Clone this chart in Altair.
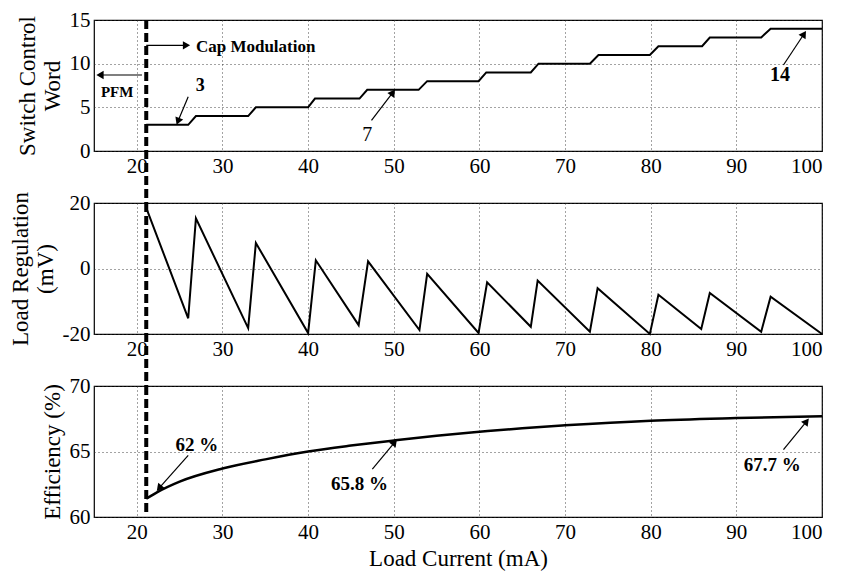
import altair as alt
import pandas as pd

FONT = "Liberation Serif"

# ---------------- data ----------------
x_ticks = [20, 30, 40, 50, 60, 70, 80, 90, 100]
pfm_boundary = 21.1

# Switch control word (staircase corners)
word_x = [21.1, 26.0, 26.9, 33.0, 33.9, 40.0, 40.8, 46.0, 46.9, 52.9, 53.9, 59.9,
          60.8, 66.0, 66.9, 72.9, 73.9, 79.9, 80.9, 86.0, 86.9, 92.9, 94.0, 100.0]
word_y = [3, 3, 4, 4, 5, 5, 6, 6, 7, 7, 8, 8, 9, 9, 10, 10, 11, 11, 12, 12, 13, 13, 14, 14]

# Load regulation (mV) sawtooth
reg_x = [21.1, 26.0, 26.9, 33.0, 33.9, 40.0, 40.9, 45.9, 47.0, 53.0, 53.9, 59.9,
         60.9, 66.0, 66.8, 72.9, 73.8, 79.9, 80.9, 85.9, 86.9, 92.9, 94.0, 100.0]
reg_y = [18.5, -15.2, 15.3, -18.2, 7.8, -19.7, 2.5, -17.3, 2.2, -18.8, -1.6, -19.7,
         -4.2, -17.8, -3.7, -19.3, -6.0, -20.0, -8.0, -18.5, -7.5, -19.3, -8.6, -20.0]

# Efficiency (%)
eff_x = [21.1, 22.4, 25, 30, 35, 40, 45, 50, 55, 60, 65, 70, 80, 90, 100]
eff_y = [61.4, 61.9, 62.7, 63.7, 64.4, 65.0, 65.45, 65.84, 66.2, 66.5, 66.78, 67.0, 67.35, 67.55, 67.7]

# annotations: text labels
top_text = ["Cap Modulation", "PFM", "3", "14"]
top_text_x = [26.9, 17.7, 27.4, 95.1]
top_text_y = [11.9, 6.8, 7.4, 8.7]
top_text_size = [17, 15, 18, 20]
seven_text = ["7"]
seven_x = [46.9]
seven_y = [1.8]

bot_text = ["62 %", "65.8 %", "67.7 %"]
bot_text_x = [27.0, 46.0, 94.2]
bot_text_y = [65.5, 62.5, 64.0]

# annotations: arrows (start -> tip) and arrowhead angle
top_arr_x = [21.1, 20.6, 26.0, 47.4, 95.5]
top_arr_y = [12.1, 8.7, 6.2, 3.5, 9.85]
top_arr_x2 = [25.8, 15.7, 24.8, 49.9, 97.9]
top_arr_y2 = [12.1, 8.7, 3.4, 6.7, 13.4]
top_arr_angle = [90, 270, 202, 36, 33]

bot_arr_x = [26.0, 47.5, 95.5]
bot_arr_y = [64.7, 63.65, 65.15]
bot_arr_x2 = [22.6, 50.1, 98.2]
bot_arr_y2 = [62.2, 65.7, 67.3]
bot_arr_angle = [220, 39, 38]

# ---------------- chart ----------------
W, H, GAP = 728, 131, 52
xscale = alt.Scale(domain=[15, 100], nice=False)
HYPHEN = "replace(datum.label, '\u2212', '-')"


def xenc(title=None):
    return alt.X("x:Q", scale=xscale, axis=alt.Axis(values=x_ticks, title=title))


def boundary(length):
    return alt.Chart(pd.DataFrame({"x": [pfm_boundary]})).mark_rule(
        color="black", strokeWidth=4, strokeDash=[9, 4]
    ).encode(x=alt.X("x:Q", scale=xscale), y=alt.value(0), y2=alt.value(length))


def arrows(xs, ys, x2s, y2s, angles):
    df = pd.DataFrame({"x": xs, "y": ys, "x2": x2s, "y2": y2s, "a": angles})
    line = alt.Chart(df).mark_rule(color="black", strokeWidth=1.2).encode(
        x=alt.X("x:Q", scale=xscale), y="y:Q", x2="x2:Q", y2="y2:Q")
    head = alt.Chart(df).mark_point(shape="triangle-up", filled=True, color="black",
                                    size=70, opacity=1).encode(
        x=alt.X("x2:Q", scale=xscale), y="y2:Q",
        angle=alt.Angle("a:Q", scale=None))
    return line + head


# top panel
word_df = pd.DataFrame({"x": word_x, "y": word_y})
top_line = alt.Chart(word_df).mark_line(color="black", strokeWidth=2).encode(
    x=xenc(),
    y=alt.Y("y:Q", scale=alt.Scale(domain=[0, 15], nice=False),
            axis=alt.Axis(values=[0, 5, 10, 15], title=["Switch Control", "Word"])))
top_lab_left = alt.Chart(pd.DataFrame({"x": [top_text_x[0]], "y": [top_text_y[0]],
                                       "t": [top_text[0]]})).mark_text(
    font=FONT, fontWeight="bold", color="black", baseline="middle", align="left",
    fontSize=top_text_size[0]).encode(x=alt.X("x:Q", scale=xscale), y="y:Q", text="t:N")
top_lab_c = alt.Chart(pd.DataFrame({"x": top_text_x[1:], "y": top_text_y[1:],
                                    "t": top_text[1:], "s": top_text_size[1:]})).mark_text(
    font=FONT, fontWeight="bold", color="black", baseline="middle", align="center").encode(
    x=alt.X("x:Q", scale=xscale), y="y:Q", text="t:N", size=alt.Size("s:Q", scale=None))
seven = alt.Chart(pd.DataFrame({"x": seven_x, "y": seven_y, "t": seven_text})).mark_text(
    font=FONT, fontSize=20, color="black", baseline="middle").encode(
    x=alt.X("x:Q", scale=xscale), y="y:Q", text="t:N")
top = alt.layer(top_line, boundary(H + GAP), top_lab_left, top_lab_c, seven,
                arrows(top_arr_x, top_arr_y, top_arr_x2, top_arr_y2, top_arr_angle)
                ).properties(width=W, height=H)

# middle panel
reg_df = pd.DataFrame({"x": reg_x, "y": reg_y})
mid_line = alt.Chart(reg_df).mark_line(color="black", strokeWidth=2).encode(
    x=xenc(),
    y=alt.Y("y:Q", scale=alt.Scale(domain=[-20, 20], nice=False),
            axis=alt.Axis(values=[-20, 0, 20], title=["Load Regulation", "(mV)"],
                          labelExpr=HYPHEN)))
mid = alt.layer(mid_line, boundary(H + GAP)).properties(width=W, height=H)

# bottom panel
eff_df = pd.DataFrame({"x": eff_x, "y": eff_y})
bot_line = alt.Chart(eff_df).mark_line(color="black", strokeWidth=2.5,
                                       interpolate="monotone").encode(
    x=xenc("Load Current (mA)"),
    y=alt.Y("y:Q", scale=alt.Scale(domain=[60, 70], nice=False),
            axis=alt.Axis(values=[60, 65, 70], title="Efficiency (%)")))
bot_lab = alt.Chart(pd.DataFrame({"x": bot_text_x, "y": bot_text_y, "t": bot_text})).mark_text(
    font=FONT, fontWeight="bold", fontSize=19, color="black", baseline="middle").encode(
    x=alt.X("x:Q", scale=xscale), y="y:Q", text="t:N")
bot = alt.layer(bot_line, boundary(H - 4), bot_lab,
                arrows(bot_arr_x, bot_arr_y, bot_arr_x2, bot_arr_y2, bot_arr_angle)
                ).properties(width=W, height=H)

chart = alt.vconcat(top, mid, bot, spacing=GAP, bounds="flush").properties(
    padding={"left": 0, "right": 0, "top": 0, "bottom": 0}
).configure_view(
    stroke="black", strokeWidth=1.2
).configure_axis(
    labelFont=FONT, titleFont=FONT, labelFontSize=21, titleFontSize=23,
    titleFontWeight="normal", labelColor="black", titleColor="black",
    grid=True, gridDash=[1, 3], gridColor="#333", gridOpacity=0.9,
    domain=False, ticks=False, labelPadding=4, titlePadding=5
)

chart.save("out.html", embed_options={"renderer": "svg", "actions": False})
